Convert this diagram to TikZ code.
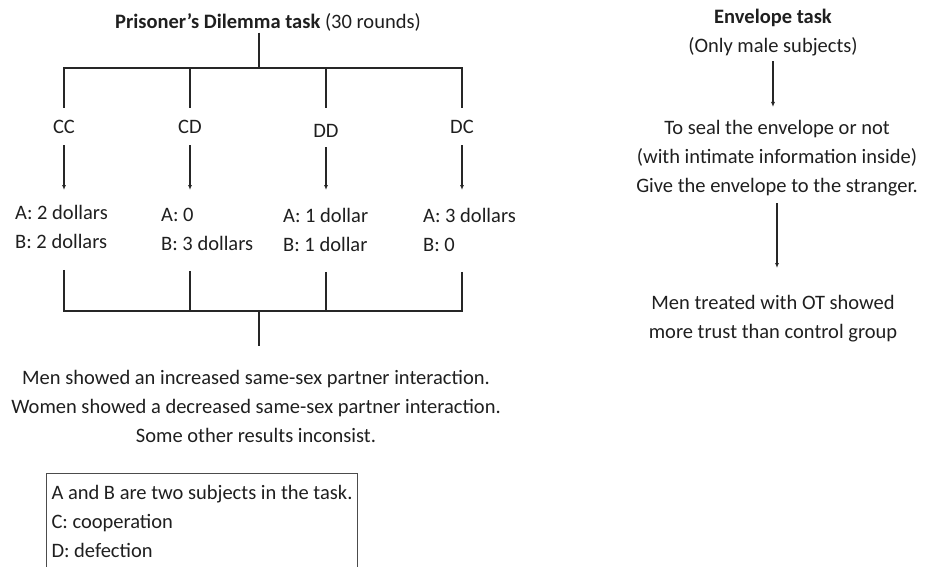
\documentclass[tikz,border=0pt]{standalone}
\usepackage{fontspec}
\setmainfont{Carlito}
\usetikzlibrary{arrows.meta}

\begin{document}
\begin{tikzpicture}[x=1pt,y=-1pt,
  every node/.style={inner sep=0pt,text=black!88,font=\fontsize{20.5}{29}\selectfont},
  pay/.style={align=left,anchor=north west},
  wire/.style={line width=1.2pt,black!85},
  arr/.style={wire,-{Latex[length=5pt,width=4pt]}}]
  \useasboundingbox (0,0) rectangle (948,567);
  % prisoner's dilemma tree
  \node (pd) at (268,22) {\textbf{Prisoner's Dilemma task} (30 rounds)};
  \coordinate (tj) at (259,68);
  \node (cc) at (64,127) {CC};
  \node (cd) at (190,127) {CD};
  \node (dd) at (326,131) {DD};
  \node (dc) at (462,127) {DC};
  \draw[wire,shorten <=1.5pt] (pd.south -| tj) -- (tj);
  \draw[wire,shorten >=12pt] (tj) -| (cc);
  \draw[wire,shorten >=12pt] (tj) -| (cd);
  \draw[wire,shorten >=16pt] (tj) -| (dd);
  \draw[wire,shorten >=12pt] (tj) -| (dc);
  \node[pay] (ccpay) at (15,205) {A: 2 dollars\\B: 2 dollars};
  \node[pay] (cdpay) at (161,208) {A: 0\\B: 3 dollars};
  \node[pay] (ddpay) at (283,208) {A: 1 dollar\\B: 1 dollar};
  \node[pay] (dcpay) at (423,208) {A: 3 dollars\\B: 0};
  \draw[arr,shorten <=11.5pt,shorten >=15pt] (cc) -- (ccpay.north -| cc);
  \draw[arr,shorten <=11.5pt,shorten >=18pt] (cd) -- (cdpay.north -| cd);
  \draw[arr,shorten <=9.5pt,shorten >=18pt] (dd) -- (ddpay.north -| dd);
  \draw[arr,shorten <=11.5pt,shorten >=18pt] (dc) -- (dcpay.north -| dc);
  % results
  \coordinate (bj) at (259,311);
  \draw[wire,shorten <=21pt] (ccpay.south -| cc) |- (bj);
  \draw[wire,shorten <=20pt] (cdpay.south -| cd) |- (bj);
  \draw[wire,shorten <=20pt] (ddpay.south -| dd) |- (bj);
  \draw[wire,shorten <=20pt] (dcpay.south -| dc) |- (bj);
  \node[align=center,anchor=north] (res) at (256,370)
    {Men showed an increased same-sex partner interaction.\\
     Women showed a decreased same-sex partner interaction.\\
     Some other results inconsist.};
  \draw[wire,shorten >=24pt] (bj) -- (res.north -| bj);
  \node[draw=black!70,line width=1pt,anchor=north west,align=left,
    inner xsep=5pt,inner ysep=12pt] (key) at (46,473)
    {A and B are two subjects in the task.\\C: cooperation\\D: defection};
  % envelope task
  \node[align=center,anchor=north] (env) at (773,9) {\textbf{Envelope task}\\(Only male subjects)};
  \node[align=center,anchor=north] (seal) at (777,120)
    {To seal the envelope or not\\(with intimate information inside)\\Give the envelope to the stranger.};
  \node[align=center,anchor=north] (trust) at (773,295)
    {Men treated with OT showed\\more trust than control group};
  \draw[arr,shorten <=5pt,shorten >=13pt] (env) -- (env |- seal.north);
  \draw[arr,shorten <=7pt,shorten >=27pt] (seal) -- (seal |- trust.north);
\end{tikzpicture}
\end{document}
